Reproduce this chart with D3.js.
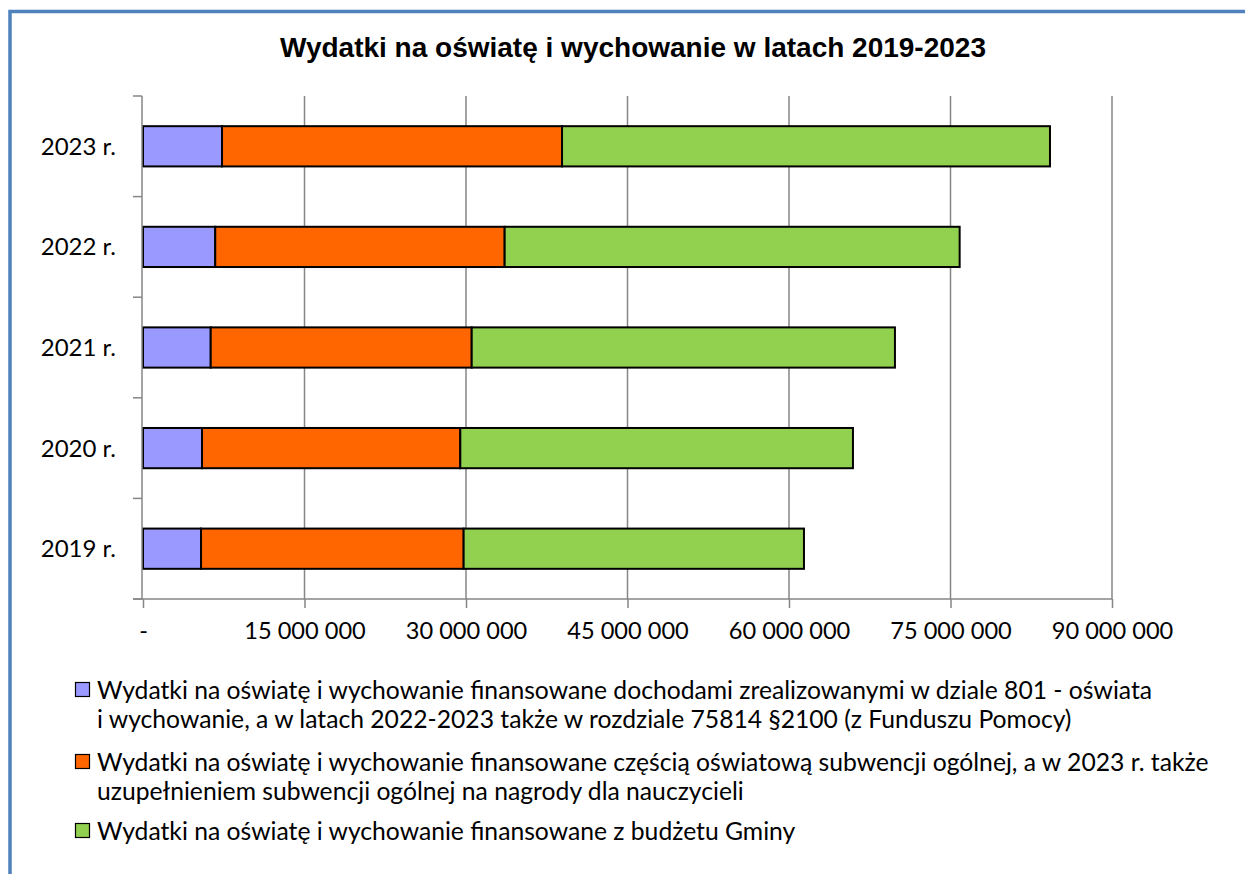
<!DOCTYPE html>
<html><head><meta charset="utf-8">
<script src="https://cdn.jsdelivr.net/npm/d3@7"></script>
<style>
html,body{margin:0;padding:0;background:#fff;}
svg{display:block;}
</style></head>
<body>
<script>
const categories = ["2019 r.", "2020 r.", "2021 r.", "2022 r.", "2023 r."];
const seriesNames = [
  ["Wydatki na oświatę i wychowanie finansowane dochodami zrealizowanymi w dziale 801 - oświata", "i wychowanie, a w latach 2022-2023 także w rozdziale 75814 §2100 (z Funduszu Pomocy)"],
  ["Wydatki na oświatę i wychowanie finansowane częścią oświatową subwencji ogólnej, a w 2023 r. także", "uzupełnieniem subwencji ogólnej na nagrody dla nauczycieli"],
  ["Wydatki na oświatę i wychowanie finansowane z budżetu Gminy"]
];
const dochody = [5390000, 5480000, 6290000, 6710000, 7340000];
const subwencja = [24390000, 23990000, 24240000, 26880000, 31580000];
const budzet = [31610000, 36470000, 39310000, 42260000, 45320000];
const tickValues = [0, 15000000, 30000000, 45000000, 60000000, 75000000, 90000000];
const tickLabels = ["-", "15 000 000", "30 000 000", "45 000 000", "60 000 000", "75 000 000", "90 000 000"];
const colors = ["#9999FF", "#FF6600", "#92D050"];
const title = "Wydatki na oświatę i wychowanie w latach 2019-2023";

const W = 1245, H = 874;
const FONT = "Lato, 'Open Sans', sans-serif";
const svg = d3.select("body").append("svg").attr("width", W).attr("height", H);

// outer frame
svg.append("rect").attr("x", 10).attr("y", 11.5).attr("width", W + 20).attr("height", H + 20)
  .attr("fill", "#fff").attr("stroke", "#4F81BD").attr("stroke-width", 3.5);

svg.append("text").attr("x", 633).attr("y", 57).attr("text-anchor", "middle")
  .attr("font-family", "Liberation Sans, Arial, sans-serif").attr("font-weight", "bold")
  .attr("font-size", 28).attr("fill", "#000").text(title);

const x0 = 143, x1 = 1112, yTop = 96, yBot = 599;
const x = d3.scaleLinear().domain([0, 90000000]).range([x0, x1]);
const y = d3.scaleBand().domain(categories.slice().reverse()).range([yTop, yBot]).paddingInner(0.6).paddingOuter(0.3);

// gridlines
svg.append("g").selectAll("line").data(tickValues.slice(1)).join("line")
  .attr("x1", d => x(d)).attr("x2", d => x(d)).attr("y1", yTop).attr("y2", yBot)
  .attr("stroke", "#868686").attr("stroke-width", 1.5);

// stacked bars
const rows = categories.map((c, i) => ({cat: c, a: dochody[i], b: subwencja[i], c: budzet[i]}));
const stack = d3.stack().keys(["a", "b", "c"])(rows);
const gBars = svg.append("g");
stack.forEach((layer, li) => {
  gBars.append("g").selectAll("rect").data(layer).join("rect")
    .attr("x", d => x(d[0])).attr("width", d => x(d[1]) - x(d[0]))
    .attr("y", d => y(d.data.cat)).attr("height", y.bandwidth())
    .attr("fill", colors[li]).attr("stroke", "#000").attr("stroke-width", 2);
});

// y axis
const yAxisX = 142;
svg.append("line").attr("x1", yAxisX).attr("x2", yAxisX).attr("y1", yTop).attr("y2", yBot)
  .attr("stroke", "#868686").attr("stroke-width", 1.5);
const bounds = d3.range(6).map(i => yTop + (yBot - yTop) * i / 5);
svg.append("g").selectAll("line").data(bounds).join("line")
  .attr("x1", 133).attr("x2", yAxisX).attr("y1", d => d).attr("y2", d => d)
  .attr("stroke", "#868686").attr("stroke-width", 1.5);
svg.append("g").selectAll("text").data(categories).join("text")
  .attr("x", 116).attr("y", d => y(d) + y.bandwidth() / 2).attr("dy", "0.35em")
  .attr("text-anchor", "end").attr("font-family", FONT).attr("font-size", 24)
  .attr("fill", "#000").text(d => d);

// x axis
const xAxis = d3.axisBottom(x).tickValues(tickValues).tickFormat((d, i) => tickLabels[i]).tickSize(9).tickPadding(14);
const gx = svg.append("g").attr("transform", `translate(0,${yBot})`).call(xAxis);
gx.select(".domain").attr("d", `M133,0H${x1}`).attr("stroke", "#868686").attr("stroke-width", 1.5);
gx.selectAll(".tick line").attr("stroke", "#868686").attr("stroke-width", 1.5);
gx.selectAll(".tick text").attr("font-family", FONT).attr("font-size", 23.6).attr("fill", "#000");

// legend
const legY = [690, 762, 831];
const lg = svg.append("g");
seriesNames.forEach((lines, i) => {
  lg.append("rect").attr("x", 75.5).attr("y", legY[i] - 7.5).attr("width", 14).attr("height", 14)
    .attr("fill", colors[i]).attr("stroke", "#000").attr("stroke-width", 1.2);
  lines.forEach((t, j) => {
    lg.append("text").attr("x", 97).attr("y", legY[i] + j * 29).attr("dy", "0.35em")
      .attr("font-family", FONT).attr("font-size", 24.7).attr("fill", "#000").text(t);
  });
});
</script>
</body></html>
